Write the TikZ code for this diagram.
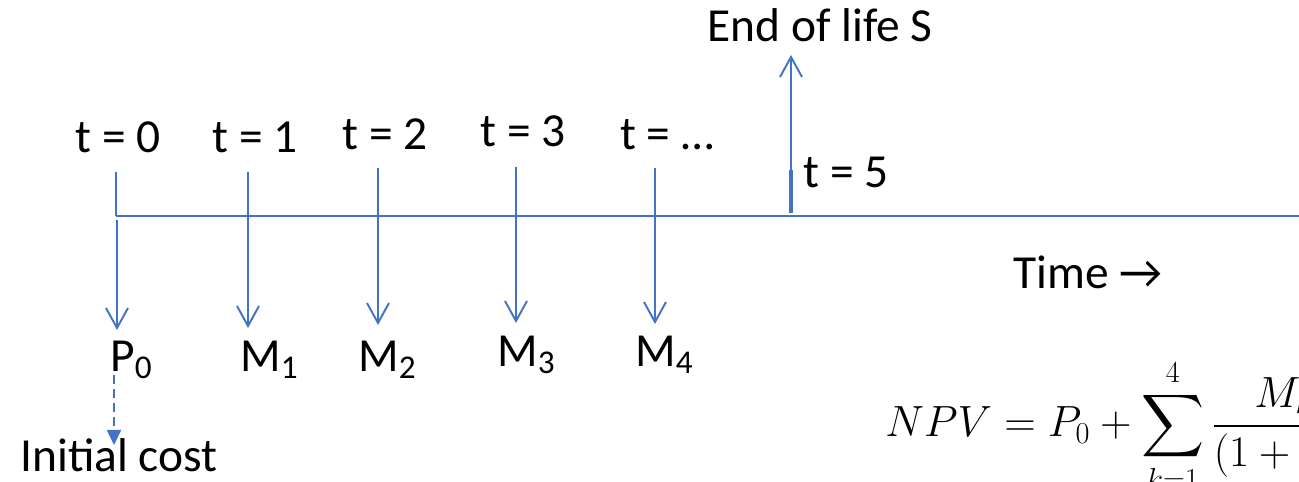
\documentclass[tikz,border=0pt]{standalone}
\usepackage{amsmath}
\usepackage{fontspec}
\setmainfont{Carlito}
\usetikzlibrary{arrows.meta, positioning}
\definecolor{linecol}{HTML}{4472C4}

\begin{document}
\begin{tikzpicture}[
    x=0.02cm, y=-0.02cm,
    every node/.style={font=\fontsize{27}{32}\selectfont, inner sep=0pt},
    tline/.style={draw=linecol, line width=1.1pt},
    flow/.style={tline, -{Straight Barb[length=0.4cm, width=0.44cm, line width=1.1pt]}},
    dflow/.style={tline, dashed, dash pattern=on 5pt off 3pt,
                  -{Triangle[length=0.3cm, width=0.28cm]}},
    tlabel/.style={anchor=base},
    cash/.style={anchor=base west},
]
\useasboundingbox (0,0) rectangle (1299,482);

% Time labels
\node[tlabel] (t0) at (118,153) {t = 0};
\node[tlabel] (t1) at (255,153) {t = 1};
\node[tlabel] (t2) at (385,150) {t = 2};
\node[tlabel] (t3) at (523,147) {t = 3};
\node[tlabel] (t4) at (667,150) {t = \dots};
\node[tlabel] (t5) at (846,188) {t = 5};
\node[tlabel] (eol) at (820,42) {End of life S};

% Cash flows
\node[cash] (p0) at (110,372) {P\textsubscript{0}};
\node[cash] (m1) at (240,372) {M\textsubscript{1}};
\node[cash] (m2) at (358,372) {M\textsubscript{2}};
\node[cash] (m3) at (497,367) {M\textsubscript{3}};
\node[cash] (m4) at (635,367) {M\textsubscript{4}};
\node[cash] (init) at (20,472) {Initial cost};
\node[cash] (time) at (1013,289) {Time \textrightarrow};

% Axis and ticks
\coordinate (axstart) at (116,216);
\coordinate (axend) at (1310,216);
\coordinate (tick0) at (116,172);
\coordinate (down0) at (117,220);
\coordinate (tip0) at (117,330);
\coordinate (tick1) at (248,172);
\coordinate (tip1) at (248,328);
\coordinate (tick2) at (378,168);
\coordinate (tip2) at (378,325);
\coordinate (tick3) at (516,167);
\coordinate (tip3) at (516,323);
\coordinate (tick4) at (655,168);
\coordinate (tip4) at (655,324);
\coordinate (base5) at (791,213);
\coordinate (mid5) at (791,170);
\coordinate (tip5) at (791,55);
\coordinate (dstart) at (114,375);
\coordinate (dtip) at (114,445);

\draw[tline] (axstart) -- (axend);
\draw[tline] (tick0) -- (axstart);
\draw[flow] (down0) -- (tip0);
\draw[flow] (tick1) -- (tip1);
\draw[flow] (tick2) -- (tip2);
\draw[flow] (tick3) -- (tip3);
\draw[flow] (tick4) -- (tip4);
\draw[flow] (base5) -- (tip5);
\draw[tline, line width=2pt] (base5) -- (mid5);
\draw[dflow] (dstart) -- (dtip);

% Net present value
\node[anchor=base west, font=\fontsize{25}{30}\selectfont] (npv) at (885,437)
    {$\displaystyle NPV = P_0 + \sum_{k=1}^{4}\frac{M_k}{(1+r)^k} + \frac{S}{(1+r)^5}$};

\end{tikzpicture}
\end{document}
